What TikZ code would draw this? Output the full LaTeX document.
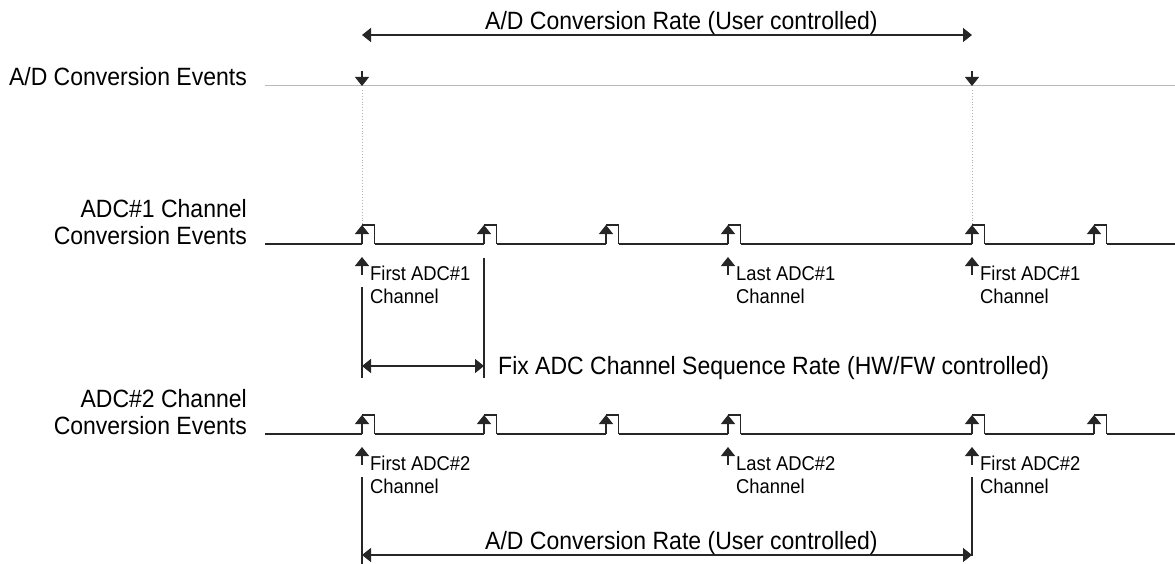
\documentclass[tikz,border=0pt]{standalone}
\usepackage{fontspec}
\setmainfont{Liberation Sans}[FakeStretch=0.92]
\usetikzlibrary{arrows.meta}
\begin{document}
\begin{tikzpicture}[x=1pt,y=-1pt,
  sig/.style={line width=1.3pt, black!85},
  hd/.tip={Triangle[length=9pt,width=14pt]},
  uparrow/.style={line width=1.3pt, black!85, -hd},
  dbl/.style={line width=1.3pt, black!85, hd-hd},
  vline/.style={line width=1.3pt, black!85},
  big/.style={font=\fontsize{25}{26.5}\selectfont, inner sep=0pt},
  lbl/.style={big, align=right, anchor=base east},
  small/.style={font=\fontsize{20}{23}\selectfont, inner sep=0pt, align=left, anchor=base west},
  dot/.style={gray!60, dotted, line width=0.9pt}]
\useasboundingbox (0,0) rectangle (1175,564);

% ---- top rate arrow
\coordinate (ta) at (362,35);
\coordinate (tb) at (972,35);
\draw[dbl] (ta) -- (tb);
\node[big, anchor=base west] (toplbl) at (485,30) {A/D Conversion Rate (User controlled)};

% ---- A/D conversion events
\node[lbl] (evlbl) at (247,86) {A/D Conversion Events};
\coordinate (evL) at (265,86);
\coordinate (evR) at (1175,86);
\draw[gray!55, line width=1pt] (evL) -- (evR);
\foreach \x/\n in {362/1, 972/2}{
  \coordinate (ev\n s) at (\x,71);
  \coordinate (ev\n) at (\x,86);
  \draw[line width=1.1pt, black!85, -hd] (ev\n s) -- (ev\n);
  \coordinate (dt\n) at (\x,90);
  \coordinate (db\n) at (\x,224);
  \draw[dot] (dt\n) -- (db\n);
}

% ---- channel rows
\foreach \Y/\r in {244/1, 434/2}{
  \node[lbl] (row\r lbl) at (247,\Y) {ADC\#\r\ Channel\\Conversion Events};
  \foreach \a/\b/\k in {265/362/0, 374.5/484/1, 496.5/606/2, 618.5/728/3, 740.5/972/4, 984.5/1094/5, 1106.5/1175/6}{
    \coordinate (s\r-\k a) at (\a,\Y);
    \coordinate (s\r-\k b) at (\b,\Y);
    \draw[sig] (s\r-\k a) -- (s\r-\k b);
  }
  \foreach \x/\k in {362/1, 484/2, 606/3, 728/4, 972/5, 1094/6}{
    \coordinate (pb\r-\k) at (\x,\Y);
    \coordinate (pt\r-\k) at (\x,\Y-19);
    \coordinate (pr\r-\k) at (\x+12.5,\Y-19);
    \coordinate (pf\r-\k) at (\x+12.5,\Y);
    \draw[uparrow] (pb\r-\k) -- (pt\r-\k);
    \draw[sig] (pt\r-\k) -- (pr\r-\k) -- (pf\r-\k);
  }
  % markers below
  \foreach \x/\w/\k in {362/First/1, 728/Last/2, 972/First/3}{
    \coordinate (ms\r-\k) at (\x,\Y+31);
    \coordinate (mt\r-\k) at (\x,\Y+13);
    \draw[uparrow] (ms\r-\k) -- (mt\r-\k);
    \node[small] (m\r-\k) at (\x+8,\Y+59) {\w\ ADC\#\r\\Channel};
  }
}

% ---- sequence rate
\coordinate (v1a) at (362,287);
\coordinate (v1b) at (362,378);
\draw[vline] (v1a) -- (v1b);
\coordinate (v2a) at (484,258);
\coordinate (v2b) at (484,378);
\draw[vline] (v2a) -- (v2b);
\coordinate (fa) at (362,366);
\coordinate (fb) at (484,366);
\draw[dbl] (fa) -- (fb);
\node[big, anchor=base west] (fixlbl) at (498,374) {Fix ADC Channel Sequence Rate (HW/FW controlled)};

% ---- bottom rate arrow
\coordinate (w1a) at (362,477);
\coordinate (w1b) at (362,564);
\draw[vline] (w1a) -- (w1b);
\coordinate (w2a) at (972,477);
\coordinate (w2b) at (972,556);
\draw[vline] (w2a) -- (w2b);
\coordinate (ba) at (362,555);
\coordinate (bb) at (972,555);
\draw[dbl] (ba) -- (bb);
\node[big, anchor=base west] (botlbl) at (485,549) {A/D Conversion Rate (User controlled)};
\end{tikzpicture}
\end{document}
